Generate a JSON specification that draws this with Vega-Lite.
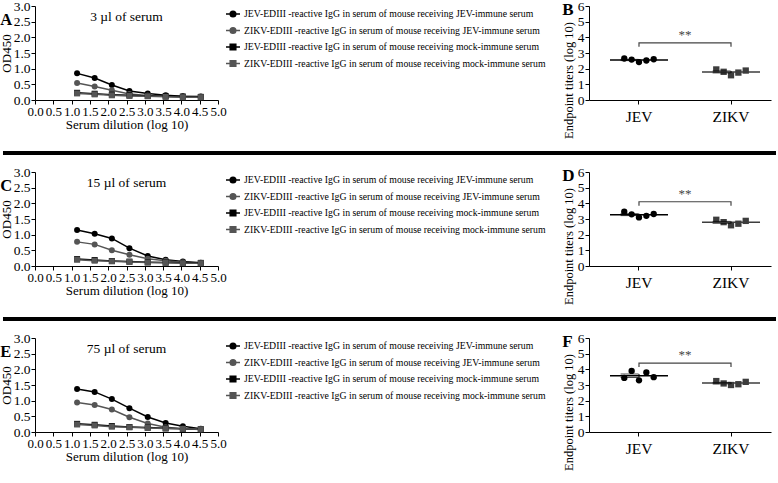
{
  "$schema": "https://vega.github.io/schema/vega-lite/v6.json",
  "padding": {"left": 0, "top": -1, "right": 0, "bottom": 0},
  "background": "white",
  "config": {
    "font": "Liberation Serif",
    "view": {"stroke": null},
    "axis": {"labelFont": "Liberation Serif", "titleFont": "Liberation Serif", "labelColor": "black", "titleColor": "black", "domainColor": "black", "tickColor": "black", "grid": false, "labelFontSize": 13.5, "titleFontSize": 13, "titleFontWeight": "normal", "tickSize": 4, "labelPadding": 1, "titlePadding": 0},
    "title": {"font": "Liberation Serif", "color": "black"},
    "legend": {"labelFont": "Liberation Serif", "orient": "right", "offset": 7, "padding": 0, "rowPadding": 2.5, "labelFontSize": 9.75, "labelColor": "black", "labelLimit": 400, "labelOffset": 3, "symbolSize": 196, "symbolStrokeWidth": 1.5}
  },
  "datasets": {
    "curves": [
      {"p":"A","k":"JJ","d":1.15,"od":0.85},{"p":"A","k":"JJ","d":1.63,"od":0.70},{"p":"A","k":"JJ","d":2.1,"od":0.48},{"p":"A","k":"JJ","d":2.58,"od":0.29},{"p":"A","k":"JJ","d":3.08,"od":0.21},{"p":"A","k":"JJ","d":3.57,"od":0.15},{"p":"A","k":"JJ","d":4.04,"od":0.12},{"p":"A","k":"JJ","d":4.53,"od":0.11},
      {"p":"A","k":"ZJ","d":1.15,"od":0.54},{"p":"A","k":"ZJ","d":1.63,"od":0.43},{"p":"A","k":"ZJ","d":2.1,"od":0.31},{"p":"A","k":"ZJ","d":2.58,"od":0.19},{"p":"A","k":"ZJ","d":3.08,"od":0.14},{"p":"A","k":"ZJ","d":3.57,"od":0.11},{"p":"A","k":"ZJ","d":4.04,"od":0.10},{"p":"A","k":"ZJ","d":4.53,"od":0.09},
      {"p":"A","k":"JM","d":1.15,"od":0.23},{"p":"A","k":"JM","d":1.63,"od":0.20},{"p":"A","k":"JM","d":2.1,"od":0.17},{"p":"A","k":"JM","d":2.58,"od":0.15},{"p":"A","k":"JM","d":3.08,"od":0.13},{"p":"A","k":"JM","d":3.57,"od":0.12},{"p":"A","k":"JM","d":4.04,"od":0.11},{"p":"A","k":"JM","d":4.53,"od":0.10},
      {"p":"A","k":"ZM","d":1.15,"od":0.21},{"p":"A","k":"ZM","d":1.63,"od":0.18},{"p":"A","k":"ZM","d":2.1,"od":0.15},{"p":"A","k":"ZM","d":2.58,"od":0.13},{"p":"A","k":"ZM","d":3.08,"od":0.12},{"p":"A","k":"ZM","d":3.57,"od":0.10},{"p":"A","k":"ZM","d":4.04,"od":0.09},{"p":"A","k":"ZM","d":4.53,"od":0.09},
      {"p":"C","k":"JJ","d":1.15,"od":1.15},{"p":"C","k":"JJ","d":1.63,"od":1.03},{"p":"C","k":"JJ","d":2.1,"od":0.88},{"p":"C","k":"JJ","d":2.58,"od":0.57},{"p":"C","k":"JJ","d":3.08,"od":0.32},{"p":"C","k":"JJ","d":3.57,"od":0.20},{"p":"C","k":"JJ","d":4.04,"od":0.14},{"p":"C","k":"JJ","d":4.53,"od":0.10},
      {"p":"C","k":"ZJ","d":1.15,"od":0.77},{"p":"C","k":"ZJ","d":1.63,"od":0.69},{"p":"C","k":"ZJ","d":2.1,"od":0.50},{"p":"C","k":"ZJ","d":2.58,"od":0.36},{"p":"C","k":"ZJ","d":3.08,"od":0.23},{"p":"C","k":"ZJ","d":3.57,"od":0.17},{"p":"C","k":"ZJ","d":4.04,"od":0.12},{"p":"C","k":"ZJ","d":4.53,"od":0.09},
      {"p":"C","k":"JM","d":1.15,"od":0.22},{"p":"C","k":"JM","d":1.63,"od":0.19},{"p":"C","k":"JM","d":2.1,"od":0.16},{"p":"C","k":"JM","d":2.58,"od":0.14},{"p":"C","k":"JM","d":3.08,"od":0.12},{"p":"C","k":"JM","d":3.57,"od":0.11},{"p":"C","k":"JM","d":4.04,"od":0.10},{"p":"C","k":"JM","d":4.53,"od":0.10},
      {"p":"C","k":"ZM","d":1.15,"od":0.20},{"p":"C","k":"ZM","d":1.63,"od":0.17},{"p":"C","k":"ZM","d":2.1,"od":0.15},{"p":"C","k":"ZM","d":2.58,"od":0.13},{"p":"C","k":"ZM","d":3.08,"od":0.11},{"p":"C","k":"ZM","d":3.57,"od":0.10},{"p":"C","k":"ZM","d":4.04,"od":0.09},{"p":"C","k":"ZM","d":4.53,"od":0.09},
      {"p":"E","k":"JJ","d":1.15,"od":1.37},{"p":"E","k":"JJ","d":1.63,"od":1.28},{"p":"E","k":"JJ","d":2.1,"od":1.05},{"p":"E","k":"JJ","d":2.58,"od":0.76},{"p":"E","k":"JJ","d":3.08,"od":0.48},{"p":"E","k":"JJ","d":3.57,"od":0.29},{"p":"E","k":"JJ","d":4.04,"od":0.18},{"p":"E","k":"JJ","d":4.53,"od":0.10},
      {"p":"E","k":"ZJ","d":1.15,"od":0.94},{"p":"E","k":"ZJ","d":1.63,"od":0.86},{"p":"E","k":"ZJ","d":2.1,"od":0.72},{"p":"E","k":"ZJ","d":2.58,"od":0.47},{"p":"E","k":"ZJ","d":3.08,"od":0.27},{"p":"E","k":"ZJ","d":3.57,"od":0.15},{"p":"E","k":"ZJ","d":4.04,"od":0.10},{"p":"E","k":"ZJ","d":4.53,"od":0.08},
      {"p":"E","k":"JM","d":1.15,"od":0.26},{"p":"E","k":"JM","d":1.63,"od":0.23},{"p":"E","k":"JM","d":2.1,"od":0.19},{"p":"E","k":"JM","d":2.58,"od":0.16},{"p":"E","k":"JM","d":3.08,"od":0.14},{"p":"E","k":"JM","d":3.57,"od":0.12},{"p":"E","k":"JM","d":4.04,"od":0.10},{"p":"E","k":"JM","d":4.53,"od":0.09},
      {"p":"E","k":"ZM","d":1.15,"od":0.24},{"p":"E","k":"ZM","d":1.63,"od":0.21},{"p":"E","k":"ZM","d":2.1,"od":0.17},{"p":"E","k":"ZM","d":2.58,"od":0.15},{"p":"E","k":"ZM","d":3.08,"od":0.13},{"p":"E","k":"ZM","d":3.57,"od":0.11},{"p":"E","k":"ZM","d":4.04,"od":0.10},{"p":"E","k":"ZM","d":4.53,"od":0.09}
    ],
    "titers": [
      {"p":"B","v":"JEV","r":1,"t":2.65},{"p":"B","v":"JEV","r":2,"t":2.58},{"p":"B","v":"JEV","r":3,"t":2.42},{"p":"B","v":"JEV","r":4,"t":2.52},{"p":"B","v":"JEV","r":5,"t":2.6},
      {"p":"B","v":"ZIKV","r":1,"t":1.95},{"p":"B","v":"ZIKV","r":2,"t":1.8},{"p":"B","v":"ZIKV","r":3,"t":1.58},{"p":"B","v":"ZIKV","r":4,"t":1.75},{"p":"B","v":"ZIKV","r":5,"t":1.88},
      {"p":"D","v":"JEV","r":1,"t":3.47},{"p":"D","v":"JEV","r":2,"t":3.3},{"p":"D","v":"JEV","r":3,"t":3.1},{"p":"D","v":"JEV","r":4,"t":3.2},{"p":"D","v":"JEV","r":5,"t":3.32},
      {"p":"D","v":"ZIKV","r":1,"t":2.95},{"p":"D","v":"ZIKV","r":2,"t":2.8},{"p":"D","v":"ZIKV","r":3,"t":2.6},{"p":"D","v":"ZIKV","r":4,"t":2.7},{"p":"D","v":"ZIKV","r":5,"t":2.88},
      {"p":"F","v":"JEV","r":1,"t":3.45},{"p":"F","v":"JEV","r":2,"t":3.9},{"p":"F","v":"JEV","r":3,"t":3.3},{"p":"F","v":"JEV","r":4,"t":3.8},{"p":"F","v":"JEV","r":5,"t":3.5},
      {"p":"F","v":"ZIKV","r":1,"t":3.25},{"p":"F","v":"ZIKV","r":2,"t":3.1},{"p":"F","v":"ZIKV","r":3,"t":3.0},{"p":"F","v":"ZIKV","r":4,"t":3.05},{"p":"F","v":"ZIKV","r":5,"t":3.2}
    ],
    "brackets": [
      {"p":"B","v":"JEV","o":1,"y":3.4},{"p":"B","v":"JEV","o":2,"y":3.65},{"p":"B","v":"ZIKV","o":3,"y":3.65},{"p":"B","v":"ZIKV","o":4,"y":3.4},
      {"p":"D","v":"JEV","o":1,"y":3.85},{"p":"D","v":"JEV","o":2,"y":4.1},{"p":"D","v":"ZIKV","o":3,"y":4.1},{"p":"D","v":"ZIKV","o":4,"y":3.85},
      {"p":"F","v":"JEV","o":1,"y":4.15},{"p":"F","v":"JEV","o":2,"y":4.4},{"p":"F","v":"ZIKV","o":3,"y":4.4},{"p":"F","v":"ZIKV","o":4,"y":4.15}
    ],
    "stars": [
      {"p":"B","s":"**","y":4.15},{"p":"D","s":"**","y":4.6},{"p":"F","s":"**","y":4.9}
    ],
    "sep": [{"a": -0.0432, "b": 1, "z": 0}]
  },
  "resolve": {"scale": {"color": "independent", "shape": "independent", "stroke": "independent"}, "legend": {"color": "independent", "shape": "independent", "stroke": "independent"}},
  "spacing": 10,
  "vconcat": [
    {
      "title": {"text": "A", "anchor": "start", "frame": "bounds", "offset": -29, "fontSize": 16.5, "fontWeight": "bold"},
      "resolve": {"scale": {"color": "independent", "shape": "independent", "stroke": "independent"}, "legend": {"color": "independent", "shape": "independent", "stroke": "independent"}},
      "spacing": 16,
      "hconcat": [
        {
          "width": 183, "height": 94,
          "title": {"text": "3 µl of serum", "offset": -24, "fontSize": 13.5, "fontWeight": "normal", "anchor": "middle", "frame": "group"},
          "data": {"name": "curves"},
          "transform": [{"filter": "datum.p=='A'"}],
          "encoding": {
            "x": {"field": "d", "type": "quantitative", "scale": {"domain": [0, 5], "nice": false}, "axis": {"values": [0,0.5,1,1.5,2,2.5,3,3.5,4,4.5,5], "format": ".1f", "title": "Serum dilution (log 10)", "labelFontSize": 13, "labelOverlap": false, "labelFlush": false}},
            "y": {"field": "od", "type": "quantitative", "scale": {"domain": [0, 3], "nice": false}, "axis": {"values": [0,0.5,1,1.5,2,2.5,3], "format": ".1f", "title": "OD450", "labelFlush": false}},
            "color": {"field": "k", "type": "nominal", "scale": {"domain": ["JJ","ZJ","JM","ZM"], "range": ["#000000","#555555","#000000","#555555"]},
              "legend": {"title": null,
                "labelExpr": "datum.label=='JJ' ? 'JEV-EDIII -reactive IgG in serum of mouse receiving JEV-immune serum' : datum.label=='ZJ' ? 'ZIKV-EDIII -reactive IgG in serum of mouse receiving JEV-immune serum' : datum.label=='JM' ? 'JEV-EDIII -reactive IgG in serum of mouse receiving mock-immune serum' : 'ZIKV-EDIII -reactive IgG in serum of mouse receiving mock-immune serum'"}}
          },
          "layer": [
            {"mark": {"type": "line", "strokeWidth": 1.5}},
            {"transform": [{"filter": "datum.k=='JJ'||datum.k=='ZJ'"}], "mark": {"type": "point", "shape": "circle", "filled": true, "size": 36, "opacity": 1}},
            {"transform": [{"filter": "datum.k=='JM'||datum.k=='ZM'"}], "mark": {"type": "point", "shape": "square", "filled": true, "size": 36, "opacity": 1}},
            {"transform": [{"filter": "false"}], "mark": {"type": "point", "filled": true, "opacity": 1},
              "encoding": {
                "shape": {"field": "k", "type": "nominal", "scale": {"domain": ["JJ","ZJ","JM","ZM"], "range": ["M-1,0H1M-0.4,0A0.4,0.4,0,1,0,0.4,0A0.4,0.4,0,1,0,-0.4,0Z","M-1,0H1M-0.4,0A0.4,0.4,0,1,0,0.4,0A0.4,0.4,0,1,0,-0.4,0Z","M-1,0H1M-0.4,-0.4H0.4V0.4H-0.4Z","M-1,0H1M-0.4,-0.4H0.4V0.4H-0.4Z"]}},
                "stroke": {"field": "k", "type": "nominal", "scale": {"domain": ["JJ","ZJ","JM","ZM"], "range": ["#000000","#555555","#000000","#555555"]}}}}
          ]
        },
        {
          "width": 182, "height": 94,
          "title": {"text": "B", "anchor": "start", "frame": "bounds", "offset": -20, "fontSize": 17, "fontWeight": "bold"},
          "encoding": {
            "x": {"field": "v", "type": "nominal", "scale": {"domain": ["JEV","ZIKV"], "paddingInner": 0.6, "paddingOuter": 0.289, "align": 0.594}, "axis": {"title": null, "labelAngle": 0, "labelFontSize": 15.5, "labelPadding": 5}},
            "y": {"field": "t", "type": "quantitative", "scale": {"domain": [0, 6], "nice": false}, "axis": {"values": [0,1,2,3,4,5,6], "title": "Endpoint titers (log 10)", "titleFontSize": 12.5, "titleY": 74, "titlePadding": 2, "labelFlush": false}}
          },
          "layer": [
            {"data": {"name": "titers"}, "transform": [{"filter": "datum.p=='B'"}], "mark": {"type": "point", "filled": true, "size": 40, "opacity": 1},
              "encoding": {"xOffset": {"field": "r", "type": "nominal"}, "shape": {"field": "v", "type": "nominal", "scale": {"domain": ["JEV","ZIKV"], "range": ["circle","square"]}, "legend": null}, "color": {"field": "v", "type": "nominal", "scale": {"domain": ["JEV","ZIKV"], "range": ["#000000","#3d3d3d"]}, "legend": null}}},
            {"data": {"name": "titers"}, "transform": [{"filter": "datum.p=='B'"}], "mark": {"type": "tick", "size": 58, "thickness": 1.5},
              "encoding": {"y": {"aggregate": "mean", "field": "t", "type": "quantitative"}, "color": {"field": "v", "type": "nominal", "legend": null}}},
            {"data": {"name": "titers"}, "transform": [{"filter": "datum.p=='B'"}], "mark": {"type": "errorbar", "extent": "stderr", "ticks": true, "color": "black"},
              "encoding": {"y": {"field": "t", "type": "quantitative"}}},
            {"data": {"name": "brackets"}, "transform": [{"filter": "datum.p=='B'"}], "mark": {"type": "line", "color": "#444444", "strokeWidth": 1.2},
              "encoding": {"y": {"field": "y", "type": "quantitative"}, "order": {"field": "o"}}},
            {"data": {"name": "stars"}, "transform": [{"filter": "datum.p=='B'"}], "mark": {"type": "text", "fontSize": 13, "color": "#444444"},
              "encoding": {"x": {"datum": "JEV", "bandPosition": 1.75}, "y": {"field": "y", "type": "quantitative"}, "text": {"field": "s"}}}
          ]
        }
      ]
    },
    {
      "width": 741, "height": 4,
      "data": {"name": "sep"},
      "mark": {"type": "rule", "strokeWidth": 4, "color": "black"},
      "encoding": {"x": {"field": "a", "type": "quantitative", "scale": {"domain": [0, 1], "nice": false, "zero": false}, "axis": null}, "x2": {"field": "b"}, "y": {"field": "z", "type": "quantitative", "scale": {"domain": [0, 1]}, "axis": null}}
    },
    {
      "title": {"text": "C", "anchor": "start", "frame": "bounds", "offset": -29, "fontSize": 16.5, "fontWeight": "bold"},
      "resolve": {"scale": {"color": "independent", "shape": "independent", "stroke": "independent"}, "legend": {"color": "independent", "shape": "independent", "stroke": "independent"}},
      "spacing": 16,
      "hconcat": [
        {
          "width": 183, "height": 94,
          "title": {"text": "15 µl of serum", "offset": -24, "fontSize": 13.5, "fontWeight": "normal", "anchor": "middle", "frame": "group"},
          "data": {"name": "curves"},
          "transform": [{"filter": "datum.p=='C'"}],
          "encoding": {
            "x": {"field": "d", "type": "quantitative", "scale": {"domain": [0, 5], "nice": false}, "axis": {"values": [0,0.5,1,1.5,2,2.5,3,3.5,4,4.5,5], "format": ".1f", "title": "Serum dilution (log 10)", "labelFontSize": 13, "labelOverlap": false, "labelFlush": false}},
            "y": {"field": "od", "type": "quantitative", "scale": {"domain": [0, 3], "nice": false}, "axis": {"values": [0,0.5,1,1.5,2,2.5,3], "format": ".1f", "title": "OD450", "labelFlush": false}},
            "color": {"field": "k", "type": "nominal", "scale": {"domain": ["JJ","ZJ","JM","ZM"], "range": ["#000000","#555555","#000000","#555555"]},
              "legend": {"title": null,
                "labelExpr": "datum.label=='JJ' ? 'JEV-EDIII -reactive IgG in serum of mouse receiving JEV-immune serum' : datum.label=='ZJ' ? 'ZIKV-EDIII -reactive IgG in serum of mouse receiving JEV-immune serum' : datum.label=='JM' ? 'JEV-EDIII -reactive IgG in serum of mouse receiving mock-immune serum' : 'ZIKV-EDIII -reactive IgG in serum of mouse receiving mock-immune serum'"}}
          },
          "layer": [
            {"mark": {"type": "line", "strokeWidth": 1.5}},
            {"transform": [{"filter": "datum.k=='JJ'||datum.k=='ZJ'"}], "mark": {"type": "point", "shape": "circle", "filled": true, "size": 36, "opacity": 1}},
            {"transform": [{"filter": "datum.k=='JM'||datum.k=='ZM'"}], "mark": {"type": "point", "shape": "square", "filled": true, "size": 36, "opacity": 1}},
            {"transform": [{"filter": "false"}], "mark": {"type": "point", "filled": true, "opacity": 1},
              "encoding": {
                "shape": {"field": "k", "type": "nominal", "scale": {"domain": ["JJ","ZJ","JM","ZM"], "range": ["M-1,0H1M-0.4,0A0.4,0.4,0,1,0,0.4,0A0.4,0.4,0,1,0,-0.4,0Z","M-1,0H1M-0.4,0A0.4,0.4,0,1,0,0.4,0A0.4,0.4,0,1,0,-0.4,0Z","M-1,0H1M-0.4,-0.4H0.4V0.4H-0.4Z","M-1,0H1M-0.4,-0.4H0.4V0.4H-0.4Z"]}},
                "stroke": {"field": "k", "type": "nominal", "scale": {"domain": ["JJ","ZJ","JM","ZM"], "range": ["#000000","#555555","#000000","#555555"]}}}}
          ]
        },
        {
          "width": 182, "height": 94,
          "title": {"text": "D", "anchor": "start", "frame": "bounds", "offset": -20, "fontSize": 17, "fontWeight": "bold"},
          "encoding": {
            "x": {"field": "v", "type": "nominal", "scale": {"domain": ["JEV","ZIKV"], "paddingInner": 0.6, "paddingOuter": 0.289, "align": 0.594}, "axis": {"title": null, "labelAngle": 0, "labelFontSize": 15.5, "labelPadding": 5}},
            "y": {"field": "t", "type": "quantitative", "scale": {"domain": [0, 6], "nice": false}, "axis": {"values": [0,1,2,3,4,5,6], "title": "Endpoint titers (log 10)", "titleFontSize": 12.5, "titleY": 74, "titlePadding": 2, "labelFlush": false}}
          },
          "layer": [
            {"data": {"name": "titers"}, "transform": [{"filter": "datum.p=='D'"}], "mark": {"type": "point", "filled": true, "size": 40, "opacity": 1},
              "encoding": {"xOffset": {"field": "r", "type": "nominal"}, "shape": {"field": "v", "type": "nominal", "scale": {"domain": ["JEV","ZIKV"], "range": ["circle","square"]}, "legend": null}, "color": {"field": "v", "type": "nominal", "scale": {"domain": ["JEV","ZIKV"], "range": ["#000000","#3d3d3d"]}, "legend": null}}},
            {"data": {"name": "titers"}, "transform": [{"filter": "datum.p=='D'"}], "mark": {"type": "tick", "size": 58, "thickness": 1.5},
              "encoding": {"y": {"aggregate": "mean", "field": "t", "type": "quantitative"}, "color": {"field": "v", "type": "nominal", "legend": null}}},
            {"data": {"name": "titers"}, "transform": [{"filter": "datum.p=='D'"}], "mark": {"type": "errorbar", "extent": "stderr", "ticks": true, "color": "black"},
              "encoding": {"y": {"field": "t", "type": "quantitative"}}},
            {"data": {"name": "brackets"}, "transform": [{"filter": "datum.p=='D'"}], "mark": {"type": "line", "color": "#444444", "strokeWidth": 1.2},
              "encoding": {"y": {"field": "y", "type": "quantitative"}, "order": {"field": "o"}}},
            {"data": {"name": "stars"}, "transform": [{"filter": "datum.p=='D'"}], "mark": {"type": "text", "fontSize": 13, "color": "#444444"},
              "encoding": {"x": {"datum": "JEV", "bandPosition": 1.75}, "y": {"field": "y", "type": "quantitative"}, "text": {"field": "s"}}}
          ]
        }
      ]
    },
    {
      "width": 741, "height": 4,
      "data": {"name": "sep"},
      "mark": {"type": "rule", "strokeWidth": 4, "color": "black"},
      "encoding": {"x": {"field": "a", "type": "quantitative", "scale": {"domain": [0, 1], "nice": false, "zero": false}, "axis": null}, "x2": {"field": "b"}, "y": {"field": "z", "type": "quantitative", "scale": {"domain": [0, 1]}, "axis": null}}
    },
    {
      "title": {"text": "E", "anchor": "start", "frame": "bounds", "offset": -29, "fontSize": 16.5, "fontWeight": "bold"},
      "resolve": {"scale": {"color": "independent", "shape": "independent", "stroke": "independent"}, "legend": {"color": "independent", "shape": "independent", "stroke": "independent"}},
      "spacing": 16,
      "hconcat": [
        {
          "width": 183, "height": 94,
          "title": {"text": "75 µl of serum", "offset": -24, "fontSize": 13.5, "fontWeight": "normal", "anchor": "middle", "frame": "group"},
          "data": {"name": "curves"},
          "transform": [{"filter": "datum.p=='E'"}],
          "encoding": {
            "x": {"field": "d", "type": "quantitative", "scale": {"domain": [0, 5], "nice": false}, "axis": {"values": [0,0.5,1,1.5,2,2.5,3,3.5,4,4.5,5], "format": ".1f", "title": "Serum dilution (log 10)", "labelFontSize": 13, "labelOverlap": false, "labelFlush": false}},
            "y": {"field": "od", "type": "quantitative", "scale": {"domain": [0, 3], "nice": false}, "axis": {"values": [0,0.5,1,1.5,2,2.5,3], "format": ".1f", "title": "OD450", "labelFlush": false}},
            "color": {"field": "k", "type": "nominal", "scale": {"domain": ["JJ","ZJ","JM","ZM"], "range": ["#000000","#555555","#000000","#555555"]},
              "legend": {"title": null,
                "labelExpr": "datum.label=='JJ' ? 'JEV-EDIII -reactive IgG in serum of mouse receiving JEV-immune serum' : datum.label=='ZJ' ? 'ZIKV-EDIII -reactive IgG in serum of mouse receiving JEV-immune serum' : datum.label=='JM' ? 'JEV-EDIII -reactive IgG in serum of mouse receiving mock-immune serum' : 'ZIKV-EDIII -reactive IgG in serum of mouse receiving mock-immune serum'"}}
          },
          "layer": [
            {"mark": {"type": "line", "strokeWidth": 1.5}},
            {"transform": [{"filter": "datum.k=='JJ'||datum.k=='ZJ'"}], "mark": {"type": "point", "shape": "circle", "filled": true, "size": 36, "opacity": 1}},
            {"transform": [{"filter": "datum.k=='JM'||datum.k=='ZM'"}], "mark": {"type": "point", "shape": "square", "filled": true, "size": 36, "opacity": 1}},
            {"transform": [{"filter": "false"}], "mark": {"type": "point", "filled": true, "opacity": 1},
              "encoding": {
                "shape": {"field": "k", "type": "nominal", "scale": {"domain": ["JJ","ZJ","JM","ZM"], "range": ["M-1,0H1M-0.4,0A0.4,0.4,0,1,0,0.4,0A0.4,0.4,0,1,0,-0.4,0Z","M-1,0H1M-0.4,0A0.4,0.4,0,1,0,0.4,0A0.4,0.4,0,1,0,-0.4,0Z","M-1,0H1M-0.4,-0.4H0.4V0.4H-0.4Z","M-1,0H1M-0.4,-0.4H0.4V0.4H-0.4Z"]}},
                "stroke": {"field": "k", "type": "nominal", "scale": {"domain": ["JJ","ZJ","JM","ZM"], "range": ["#000000","#555555","#000000","#555555"]}}}}
          ]
        },
        {
          "width": 182, "height": 94,
          "title": {"text": "F", "anchor": "start", "frame": "bounds", "offset": -20, "fontSize": 17, "fontWeight": "bold"},
          "encoding": {
            "x": {"field": "v", "type": "nominal", "scale": {"domain": ["JEV","ZIKV"], "paddingInner": 0.6, "paddingOuter": 0.289, "align": 0.594}, "axis": {"title": null, "labelAngle": 0, "labelFontSize": 15.5, "labelPadding": 5}},
            "y": {"field": "t", "type": "quantitative", "scale": {"domain": [0, 6], "nice": false}, "axis": {"values": [0,1,2,3,4,5,6], "title": "Endpoint titers (log 10)", "titleFontSize": 12.5, "titleY": 74, "titlePadding": 2, "labelFlush": false}}
          },
          "layer": [
            {"data": {"name": "titers"}, "transform": [{"filter": "datum.p=='F'"}], "mark": {"type": "point", "filled": true, "size": 40, "opacity": 1},
              "encoding": {"xOffset": {"field": "r", "type": "nominal"}, "shape": {"field": "v", "type": "nominal", "scale": {"domain": ["JEV","ZIKV"], "range": ["circle","square"]}, "legend": null}, "color": {"field": "v", "type": "nominal", "scale": {"domain": ["JEV","ZIKV"], "range": ["#000000","#3d3d3d"]}, "legend": null}}},
            {"data": {"name": "titers"}, "transform": [{"filter": "datum.p=='F'"}], "mark": {"type": "tick", "size": 58, "thickness": 1.5},
              "encoding": {"y": {"aggregate": "mean", "field": "t", "type": "quantitative"}, "color": {"field": "v", "type": "nominal", "legend": null}}},
            {"data": {"name": "titers"}, "transform": [{"filter": "datum.p=='F'"}], "mark": {"type": "errorbar", "extent": "stderr", "ticks": true, "color": "black"},
              "encoding": {"y": {"field": "t", "type": "quantitative"}}},
            {"data": {"name": "brackets"}, "transform": [{"filter": "datum.p=='F'"}], "mark": {"type": "line", "color": "#444444", "strokeWidth": 1.2},
              "encoding": {"y": {"field": "y", "type": "quantitative"}, "order": {"field": "o"}}},
            {"data": {"name": "stars"}, "transform": [{"filter": "datum.p=='F'"}], "mark": {"type": "text", "fontSize": 13, "color": "#444444"},
              "encoding": {"x": {"datum": "JEV", "bandPosition": 1.75}, "y": {"field": "y", "type": "quantitative"}, "text": {"field": "s"}}}
          ]
        }
      ]
    }
  ]
}
